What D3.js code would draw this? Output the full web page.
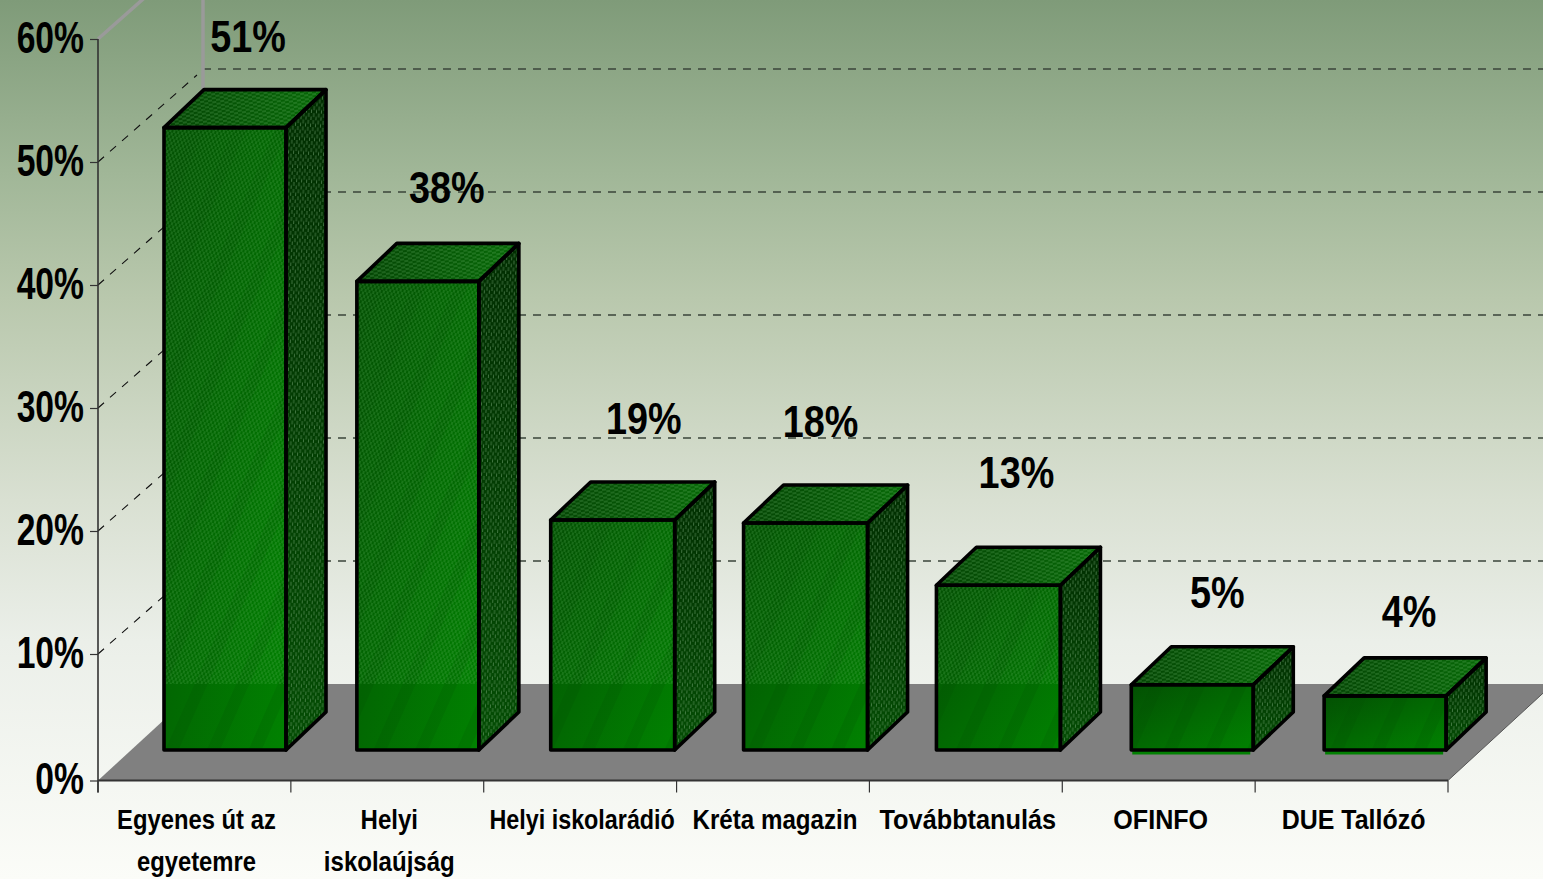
<!DOCTYPE html>
<html><head><meta charset="utf-8">
<script src="https://cdn.jsdelivr.net/npm/d3@7"></script>
<style>html,body{margin:0;padding:0;overflow:hidden;background:#fff}svg{display:block}
text{font-family:"Liberation Sans",Arial,sans-serif;font-weight:bold;fill:#000}</style>
</head><body><svg id="c" width="1543" height="879"></svg>
<script>
const categories = [["Egyenes út az","egyetemre"],["Helyi","iskolaújság"],["Helyi iskolarádió"],["Kréta magazin"],["Továbbtanulás"],["OFINFO"],["DUE Tallózó"]];
const values = [50.6, 38.1, 18.7, 18.45, 13.4, 5.3, 4.4];
const valueLabels = ["51%","38%","19%","18%","13%","5%","4%"];
const yTicks = [0,10,20,30,40,50,60];

const W=1543,H=879;
const svg=d3.select("#c");
const x=d3.scaleBand().domain(d3.range(categories.length)).range([98,1448]);
const y=d3.scaleLinear().domain([0,10,60]).range([780.5,654,39]);      // front axis
const yBack=d3.scaleLinear().domain([0,50]).range([684,69]);           // back wall
const yBar=d3.scaleLinear().domain([0,50]).range([750,135]);           // bar fronts
const wallDx=105, barDx=40, barDy=-38, barInset=66;
const barShift=[0,0,1,1,1,3,3], barWidths=[122,122,124,124,124,122,122];
const nudges=[[23,-53],[29,-55],[31,-63],[15,-63],[18,-74],[25,-54],[24,-46]];
const labelStretch=[1.025,1.035,1.005,1.04,1.09,1.08,1.075];

const defs=svg.append("defs");
const bg=defs.append("linearGradient").attr("id","bg").attr("x1",0).attr("x2",0).attr("y1",0).attr("y2",1);
[[0,"#7f9b79"],[.2,"#a1b798"],[.34,"#b9c8ad"],[.57,"#d9e0d2"],[.73,"#ebefe9"],[1,"#fbfcf8"]].forEach(s=>bg.append("stop").attr("offset",s[0]).attr("stop-color",s[1]));
function grad(id,a,b,x2,y2){const g=defs.append("linearGradient").attr("id",id).attr("x1",0).attr("y1",0).attr("x2",x2).attr("y2",y2);
 g.append("stop").attr("offset",0).attr("stop-color",a);g.append("stop").attr("offset",1).attr("stop-color",b);}
grad("front","#035003","#018201",1,1);
grad("top","#044404","#076a07",1,0);
grad("side","#012e01","#044d04",0,1);
function hatch(id,w,h,rot,col,op,d){const p=defs.append("pattern").attr("id",id).attr("patternUnits","userSpaceOnUse").attr("width",w).attr("height",h).attr("patternTransform",`rotate(${rot})`);
 p.append("path").attr("d",d).attr("stroke",col).attr("stroke-opacity",op).attr("stroke-width",1).attr("fill","none");}
hatch("hFront",4,6,14,"#6fc06f",.42,"M1,0V3M3,3V6");
hatch("hTop",8,4,-8,"#7fc87f",.42,"M0,1H4M4,3H8");
hatch("hSide",5,7,4,"#7fae7f",.5,"M1,0V4M3.5,3.5V7");
const st=defs.append("pattern").attr("id","streak").attr("patternUnits","userSpaceOnUse").attr("width",38).attr("height",38).attr("patternTransform","rotate(24)");
st.append("rect").attr("width",12).attr("height",38).attr("fill","#004a00").attr("opacity",.16);
defs.append("clipPath").attr("id","aboveFloor").append("rect").attr("width",W).attr("height",yBack(0));

svg.append("rect").attr("width",W).attr("height",H).attr("fill","url(#bg)");

// floor
const xL=x.range()[0], xR=x.range()[1];
svg.append("polygon").attr("fill","#808080").attr("points",[[xL,y(0)],[xR,y(0)],[xR+wallDx,yBack(0)],[xL+wallDx,yBack(0)]].join(" "));
// back gridlines and wall side lines
const gt=yTicks.filter(t=>t>0&&t<60);
svg.append("g").selectAll("line").data(gt).join("line")
 .attr("x1",xL+wallDx).attr("x2",W).attr("y1",t=>yBack(t)).attr("y2",t=>yBack(t))
 .attr("stroke","#3a443a").attr("stroke-width",1.4).attr("stroke-dasharray","8 7");
svg.append("g").selectAll("line").data(gt).join("line")
 .attr("x1",xL).attr("y1",t=>y(t)).attr("x2",xL+wallDx-6).attr("y2",t=>yBack(t)+6)
 .attr("stroke","#111").attr("stroke-width",1.1).attr("stroke-dasharray","8 8");
// wall edges
svg.append("line").attr("x1",xL).attr("y1",y(60)).attr("x2",xL+wallDx).attr("y2",yBack(60)).attr("stroke","#9a9a9a").attr("stroke-width",3.5);
svg.append("line").attr("x1",xL+wallDx).attr("x2",xL+wallDx).attr("y1",0).attr("y2",yBack(0)).attr("stroke","#9a9a9a").attr("stroke-width",3.5);
svg.append("line").attr("x1",xR).attr("y1",y(0)).attr("x2",xR+wallDx).attr("y2",yBack(0)).attr("stroke","#555").attr("stroke-width",1);

// bars
const bars=svg.append("g").selectAll("g").data(values.map((v,i)=>({v,i}))).join("g");
const X0=d=>x(d.i)+barInset+barShift[d.i], BW=d=>barWidths[d.i], B=yBar(0);
const front=d=>{const a=X0(d),t=yBar(d.v),w=BW(d);return [[a,t],[a+w,t],[a+w,B],[a,B]];};
const top_=d=>{const a=X0(d),t=yBar(d.v),w=BW(d);return [[a,t],[a+w,t],[a+w+barDx,t+barDy],[a+barDx,t+barDy]];};
const side=d=>{const a=X0(d)+BW(d),t=yBar(d.v);return [[a,t],[a+barDx,t+barDy],[a+barDx,B+barDy],[a,B]];};
const P=f=>d=>f(d).join(" ");
bars.filter(d=>d.v<10).append("rect").attr("x",d=>X0(d)+1).attr("y",B).attr("width",d=>BW(d)-4).attr("height",4.5).attr("fill","#028002");
bars.append("polygon").attr("points",P(front)).attr("fill","url(#front)");
bars.append("polygon").attr("points",P(front)).attr("fill","url(#streak)");
bars.append("polygon").attr("points",P(front)).attr("fill","url(#hFront)").attr("clip-path","url(#aboveFloor)");
bars.append("polygon").attr("points",P(top_)).attr("fill","url(#top)");
bars.append("polygon").attr("points",P(top_)).attr("fill","url(#hTop)");
bars.append("polygon").attr("points",P(side)).attr("fill","url(#side)");
bars.append("polygon").attr("points",P(side)).attr("fill","url(#hSide)");
[front,top_,side].forEach(f=>bars.append("polygon").attr("points",P(f)).attr("fill","none").attr("stroke","#000").attr("stroke-width",3.6).attr("stroke-linejoin","round"));

// axes
const axisColor="#333";
const yAxis=svg.append("g").attr("transform",`translate(${xL},0)`).call(d3.axisLeft(y).tickValues(yTicks).tickSize(8).tickFormat(d=>d+"%"));
yAxis.attr("font-family",null).attr("font-size",null);
yAxis.selectAll("path").attr("stroke",axisColor).attr("stroke-width",1.6).attr("d",`M0,${y(60)}V${y(0)+12}`);
yAxis.selectAll("line").attr("stroke",axisColor).attr("stroke-width",1.2);
yAxis.selectAll("text").attr("font-size",44).attr("x",null).attr("dy",null).attr("y",null).attr("text-anchor","end")
 .attr("transform","translate(-14,13) scale(0.765,1)");
svg.append("line").attr("x1",xL).attr("x2",xR).attr("y1",y(0)).attr("y2",y(0)).attr("stroke",axisColor).attr("stroke-width",2);
svg.append("g").selectAll("line").data(d3.range(categories.length).map(i=>x(i)).concat([xR])).join("line")
 .attr("x1",d=>d).attr("x2",d=>d)
 .attr("y1",y(0)).attr("y2",y(0)+12).attr("stroke",axisColor).attr("stroke-width",1.2);

// category labels
svg.append("g").selectAll("text").data(categories).join("text")
 .attr("text-anchor","middle").attr("font-size",28.5)
 .attr("transform",(d,i)=>`translate(${x(i)+x.bandwidth()/2+2},829) scale(${0.815*labelStretch[i]},1)`)
 .selectAll("tspan").data(d=>d).join("tspan").attr("x",0).attr("y",(d,i)=>i*42).text(d=>d);

// value labels
svg.append("g").selectAll("text").data(values.map((v,i)=>({v,i}))).join("text")
 .attr("text-anchor","middle").attr("font-size",45)
 .attr("transform",d=>`translate(${X0(d)+BW(d)/2+nudges[d.i][0]},${yBar(d.v)+barDy+nudges[d.i][1]+15}) scale(0.84,1)`)
 .text(d=>valueLabels[d.i]);
</script></body></html>
